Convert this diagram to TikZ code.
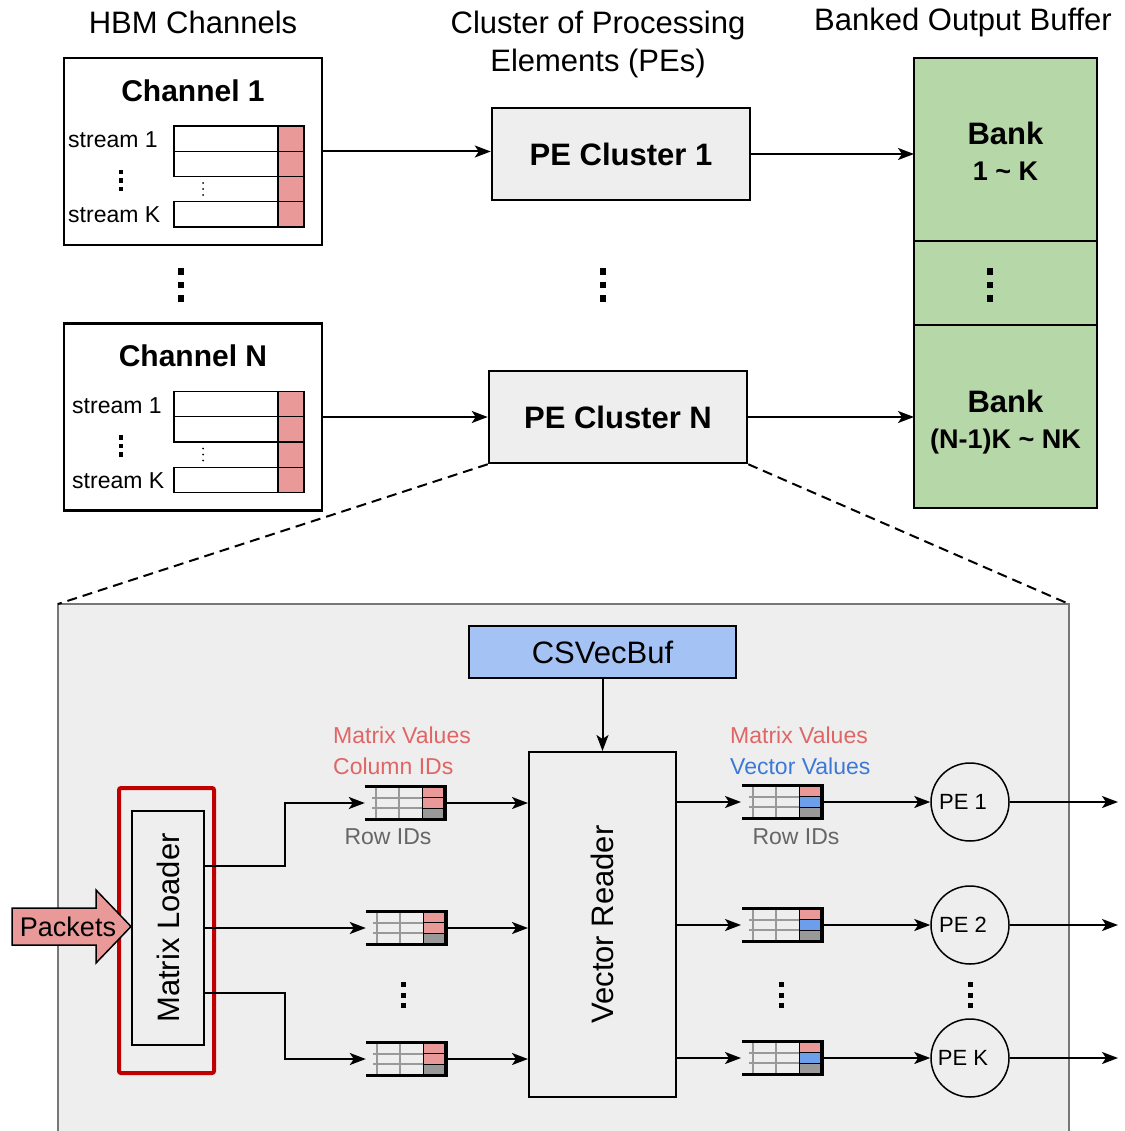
\documentclass[tikz,border=0pt]{standalone}
\usepackage{fontspec}
\setmainfont{Liberation Sans}
\definecolor{CellPink}{HTML}{EA9999}
\definecolor{CellBlue}{HTML}{6D9EEB}
\definecolor{CellGray}{HTML}{999999}
\definecolor{BankGreen}{HTML}{B6D7A8}
\definecolor{BufBlue}{HTML}{A4C2F4}
\definecolor{PaleGray}{HTML}{EEEEEE}
\definecolor{FrameGray}{HTML}{777777}
\definecolor{LoaderRed}{HTML}{C00000}
\definecolor{TextRed}{HTML}{E06666}
\definecolor{TextBlue}{HTML}{3C78D8}
\definecolor{TextGray}{HTML}{666666}
\usetikzlibrary{arrows.meta, positioning, calc}

% column of three square dots: x, y, size, gap
\newcommand{\dotcol}[4]{\foreach \k in {-1,0,1} \fill (#1-#3/2, #2+\k*#4-#3/2) rectangle ++(#3,#3);}
% small FIFO: name, centre, colour of middle cell
\newcommand{\fifo}[3]{%
  \node[fifobox] (#1) at (#2) {};
  \begin{scope}[shift={(#1.center)}]
    \draw[gridline] (-33,-5.2) -- (17,-5.2) (-33,5.2) -- (17,5.2)
                    (-29,-16) -- (-29,16) (-6,-16) -- (-6,16);
    \draw[line width=1pt, fill=CellPink] (17,-15.5) rectangle (39,-5.2);
    \draw[line width=1pt, fill=#3] (17,-5.2) rectangle (39,5.2);
    \draw[line width=1pt, fill=CellGray] (17,5.2) rectangle (39,15.5);
    \draw[line width=3.5pt] (-40,-16.5) -- (40,-16.5) -- (40,16.5) -- (-40,16.5);
  \end{scope}}

\begin{document}
\begin{tikzpicture}[x=1pt, y=-1pt,
    title/.style={font=\fontsize{31}{38}\selectfont, align=center},
    chan/.style={draw, line width=2.5pt, fill=white, minimum width=258pt, minimum height=187pt},
    chtitle/.style={font=\fontsize{30}{36}\selectfont\bfseries},
    streamlab/.style={font=\fontsize{23}{28}\selectfont, anchor=west, inner sep=0pt},
    cluster/.style={draw, line width=2.5pt, fill=PaleGray, minimum width=258pt,
                    minimum height=92pt, font=\fontsize{31}{36}\selectfont\bfseries},
    bank/.style={draw, line width=2.5pt, fill=BankGreen, minimum width=183pt, outer sep=0pt,
                 align=center, font=\fontsize{27}{36}\selectfont\bfseries},
    block/.style={draw, line width=2pt, font=\fontsize{31}{36}\selectfont},
    lab/.style={font=\fontsize{23}{31}\selectfont, inner sep=0pt},
    pe/.style={circle, draw, line width=1.5pt, minimum size=78pt, font=\fontsize{22}{26}\selectfont},
    fifobox/.style={minimum width=80pt, minimum height=33pt, inner sep=0pt},
    gridline/.style={CellGray, line width=1.5pt},
    arrow/.style={-{Stealth[length=16pt, width=12pt, inset=4pt]}, line width=2pt}
  ]
  \useasboundingbox (0,0) rectangle (1124,1131);

  % top level
  \node[title] (thbm) at (193,22) {HBM Channels};
  \node[title] (tpe) at (598,44) {Cluster of Processing\\Elements (PEs)};
  \node[title] (tbuf) at (963,22) {Banked Output Buffer};

  \foreach \cid/\yc/\lx in {1/151.5/-125, N/417/-121} {
    \node[chan] (ch\cid) at (193,\yc) {};
    \node[chtitle] (ch\cid-t) at ($(ch\cid.center)+(0,-61)$) {Channel \cid};
    \begin{scope}[shift={(ch\cid.center)}]
      \draw[line width=1.3pt, fill=white] (-19,-25.5) rectangle (85,-0.25)
        (-19,-0.25) rectangle (85,25) (-19,50.25) rectangle (85,75.5);
      \foreach \r in {0,...,3}
        \draw[line width=1.3pt, fill=CellPink] (85,-25.5+25.25*\r) rectangle (111,-0.25+25.25*\r);
      \foreach \k in {-1,0,1} \fill (10,37.5+\k*6) circle (1);
      \node[streamlab] (ch\cid-s1) at (\lx,-11.5) {stream 1};
      \node[streamlab] (ch\cid-sk) at (\lx,63.5) {stream K};
      \dotcol{-72}{29}{4.5}{8.5}
    \end{scope}
  }

  \node[cluster] (pe1) at (621,154) {PE Cluster 1};
  \node[cluster] (peN) at (618,417) {PE Cluster N};

  \node[bank, minimum height=183pt] (bank1) at (1005.5,149.5)
    {{\fontsize{31}{36}\selectfont\rule{0pt}{26pt}Bank}\\1 \textasciitilde{} K};
  \node[bank, minimum height=84pt, below=0pt of bank1] (bankd) {};
  \node[bank, minimum height=183pt, below=0pt of bankd] (bankN)
    {{\fontsize{31}{36}\selectfont\rule{0pt}{34pt}Bank}\\(N-1)K \textasciitilde{} NK};

  \dotcol{181}{285}{6.5}{13.5}
  \dotcol{603}{285}{6.5}{13.5}
  \dotcol{990}{285}{6.5}{13.5}

  \draw[arrow] (ch1.east) -- (ch1.east -| pe1.west);
  \draw[arrow] (chN.east) -- (peN.west);
  \draw[arrow] (pe1.east) -- (pe1.east -| bank1.west);
  \draw[arrow] (peN.east) -- (peN.east -| bankN.west);

  % zoomed PE cluster
  \node[draw=FrameGray, line width=2.5pt, fill=PaleGray, minimum width=1011pt,
        minimum height=536pt, outer sep=0pt] (detail) at (563.5,872) {};
  \draw[line width=2pt, dash pattern=on 10pt off 6pt] (peN.south west) -- (detail.north west);
  \draw[line width=2pt, dash pattern=on 10pt off 6pt] (peN.south east) -- (detail.north east);

  \node[block, fill=BufBlue, minimum width=267pt, minimum height=52pt] (csv) at (602.5,652) {CSVecBuf};
  \node[block, minimum width=147pt, minimum height=345pt] (vr) at (602.5,924.5) {};
  \node[rotate=90, font=\fontsize{31}{36}\selectfont] (vr-t) at (vr.center) {Vector Reader};
  \draw[arrow] (csv.south) -- (vr.north);

  \node[draw=LoaderRed, line width=4pt, rounded corners=2pt, minimum width=95pt,
        minimum height=285pt] (ldrframe) at (166.5,930.5) {};
  \node[block, minimum width=72pt, minimum height=234pt] (ldr) at (168,928) {};
  \node[rotate=90, font=\fontsize{31}{36}\selectfont] (ldr-t) at (ldr.center) {Matrix Loader};

  \draw[line width=1.5pt, fill=CellPink] (12,908) -- (96,908) -- (96,890) -- (131,926.5)
    -- (96,963) -- (96,945) -- (12,945) -- cycle;
  \node[font=\fontsize{27}{32}\selectfont] (pkt) at (68,926.5) {Packets};

  \fifo{fa1}{405,803}{CellPink}
  \fifo{fa2}{406,928}{CellPink}
  \fifo{fa3}{406,1059}{CellPink}
  \fifo{fb1}{782,802}{CellBlue}
  \fifo{fb2}{782,925}{CellBlue}
  \fifo{fb3}{782,1058}{CellBlue}

  \node[lab, text=TextRed, align=left, anchor=west] (fa1-top) at (333,751) {Matrix Values\\Column IDs};
  \node[lab, align=left, anchor=west] (fb1-top) at (730,751)
    {\textcolor{TextRed}{Matrix Values}\\\textcolor{TextBlue}{Vector Values}};
  \node[lab, text=TextGray] (fa1-row) at (388,837) {Row IDs};
  \node[lab, text=TextGray] (fb1-row) at (796,837) {Row IDs};

  \node[pe] (p1) at (970,802) {\hspace*{-14pt}PE 1};
  \node[pe] (p2) at (970,925) {\hspace*{-14pt}PE 2};
  \node[pe] (pk) at (970,1058) {\hspace*{-14pt}PE K};
  \coordinate (outx) at (1118,0);

  \draw[arrow] ([yshift=62pt]ldr.east) -- ++(80,0) |- (fa1.west);
  \draw[arrow] (ldr.east) -- (fa2.west);
  \draw[arrow] ([yshift=-65pt]ldr.east) -- ++(80,0) |- (fa3.west);
  \foreach \i in {1,2,3} {
    \draw[arrow] (fa\i.east) -- (fa\i.east -| vr.west);
    \draw[arrow] (vr.east |- fb\i.west) -- ++(64,0);
  }
  \draw[arrow] (fb1.east) -- (p1.west);
  \draw[arrow] (fb2.east) -- (p2.west);
  \draw[arrow] (fb3.east) -- (pk.west);
  \draw[arrow] (p1.east) -- (p1.east -| outx);
  \draw[arrow] (p2.east) -- (p2.east -| outx);
  \draw[arrow] (pk.east) -- (pk.east -| outx);

  \dotcol{403}{995}{5}{10.5}
  \dotcol{781}{995}{5}{10.5}
  \dotcol{970}{995}{5}{10.5}
\end{tikzpicture}
\end{document}
